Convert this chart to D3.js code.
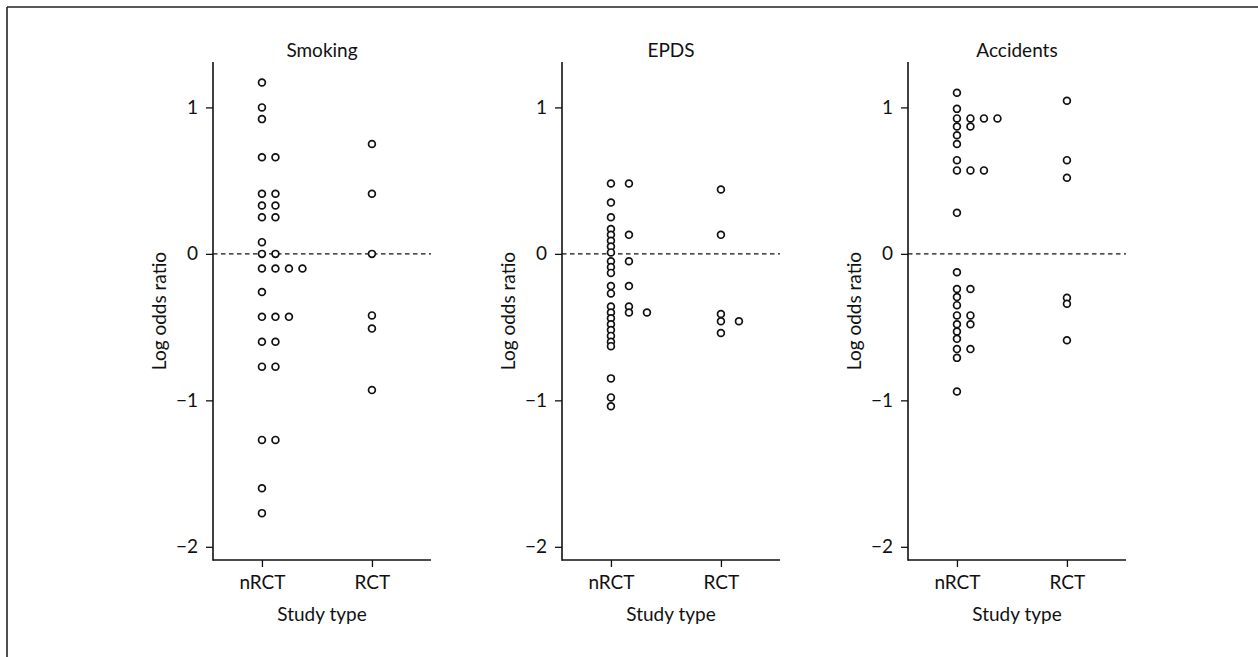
<!DOCTYPE html>
<html>
<head>
<meta charset="utf-8">
<script src="https://cdn.jsdelivr.net/npm/d3@7"></script>
<style>
  html, body { margin: 0; padding: 0; background: #fff; }
  svg { display: block; }
  text { font-family: Lato, "Open Sans", sans-serif; fill: #111; }
</style>
</head>
<body>
<svg id="chart" width="1258" height="657"></svg>
<script>
// ---- data ----
const panelTitles = ["Smoking", "EPDS", "Accidents"];
const categories = ["nRCT", "RCT"];
const yTickValues = [1, 0, -1, -2];
const yTickLabels = ["1", "0", "\u22121", "\u22122"];
const xAxisTitle = "Study type";
const yAxisTitle = "Log odds ratio";

const smokingNRCT = [1.17, 1.00, 0.92, 0.66, 0.66, 0.41, 0.41, 0.33, 0.33, 0.25, 0.25, 0.08,
  0.00, 0.00, -0.10, -0.10, -0.10, -0.10, -0.26, -0.43, -0.43, -0.43, -0.60, -0.60,
  -0.77, -0.77, -1.27, -1.27, -1.60, -1.77];
const smokingRCT = [0.75, 0.41, 0.00, -0.42, -0.51, -0.93];

const epdsNRCT = [0.48, 0.48, 0.35, 0.25, 0.17, 0.13, 0.13, 0.09, 0.05, 0.01, -0.05, -0.05,
  -0.09, -0.13, -0.22, -0.22, -0.27, -0.36, -0.36, -0.40, -0.40, -0.40, -0.44, -0.48,
  -0.52, -0.56, -0.60, -0.63, -0.85, -0.98, -1.04];
const epdsRCT = [0.44, 0.13, -0.41, -0.46, -0.46, -0.54];

const accidentsNRCT = [1.10, 0.99, 0.925, 0.925, 0.925, 0.925, 0.87, 0.87, 0.81, 0.75, 0.64,
  0.57, 0.57, 0.57, 0.28, -0.125, -0.24, -0.24, -0.295, -0.35, -0.42, -0.42, -0.48, -0.48,
  -0.53, -0.58, -0.65, -0.65, -0.71, -0.94];
const accidentsRCT = [1.045, 0.64, 0.52, -0.30, -0.34, -0.59];

const panelSeries = [
  [smokingNRCT, smokingRCT],
  [epdsNRCT, epdsRCT],
  [accidentsNRCT, accidentsRCT]
];

// ---- layout ----
const svg = d3.select("#chart");
const panelLeft = [213, 562, 908];
const panelWidth = 218;
const plotTop = 62, plotBottom = 560;
const fontSize = 19;

// frame
svg.append("line").attr("x1", 7).attr("x2", 1258).attr("y1", 7).attr("y2", 7)
  .attr("stroke", "#222").attr("stroke-width", 1.6);
svg.append("line").attr("x1", 7).attr("x2", 7).attr("y1", 7).attr("y2", 657)
  .attr("stroke", "#222").attr("stroke-width", 1.6);

const y = d3.scaleLinear().domain([-2.09, 1.31]).range([plotBottom, plotTop]);

panelTitles.forEach((title, pi) => {
  const left = panelLeft[pi];
  const x = d3.scaleLinear().domain([0.555, 2.537]).range([left, left + panelWidth]);
  const g = svg.append("g");
  const cx = left + panelWidth / 2;

  // dashed zero line
  g.append("line")
    .attr("x1", x.range()[0]).attr("x2", x.range()[1])
    .attr("y1", y(0)).attr("y2", y(0))
    .attr("stroke", "#111").attr("stroke-width", 1.3)
    .attr("stroke-dasharray", "4.5,3.5");

  // y axis
  const yAxis = d3.axisLeft(y).tickValues(yTickValues)
    .tickFormat((d, i) => yTickLabels[i]).tickSize(7).tickPadding(8).tickSizeOuter(0);
  const ya = g.append("g").attr("transform", `translate(${left},0)`).call(yAxis);
  ya.select(".domain").remove();
  ya.append("line").attr("x1", 0).attr("x2", 0).attr("y1", plotTop).attr("y2", plotBottom + 0.75)
    .attr("stroke", "#111").attr("stroke-width", 1.6);
  ya.selectAll(".tick line").attr("stroke", "#111").attr("stroke-width", 1.3);
  ya.selectAll(".tick text").attr("font-size", fontSize).attr("font-family", "Lato, sans-serif").attr("fill", "#111");

  // x axis
  const xAxis = d3.axisBottom(x).tickValues([1, 2])
    .tickFormat((d) => categories[d - 1]).tickSize(7).tickPadding(9).tickSizeOuter(0);
  const xa = g.append("g").attr("transform", `translate(0,${plotBottom})`).call(xAxis);
  xa.select(".domain").remove();
  xa.append("line").attr("x1", x.range()[0]).attr("x2", x.range()[1]).attr("y1", 0).attr("y2", 0)
    .attr("stroke", "#111").attr("stroke-width", 1.6);
  xa.selectAll(".tick line").attr("stroke", "#111").attr("stroke-width", 1.3);
  xa.selectAll(".tick text").attr("font-size", fontSize).attr("font-family", "Lato, sans-serif").attr("fill", "#111");

  // titles
  g.append("text").attr("x", cx).attr("y", 57).attr("text-anchor", "middle")
    .attr("font-size", fontSize).text(title);
  g.append("text").attr("x", cx).attr("y", 621).attr("text-anchor", "middle")
    .attr("font-size", fontSize).text(xAxisTitle);
  g.append("text")
    .attr("transform", `translate(${left - 47},${(plotTop + plotBottom) / 2}) rotate(-90)`)
    .attr("text-anchor", "middle").attr("font-size", fontSize).text(yAxisTitle);

  // dot plot: equal values placed side by side
  const series = panelSeries[pi];
  let maxCount = 1;
  const pts = [];
  series.forEach((vals, ci) => {
    const counts = new Map();
    vals.forEach(v => {
      const k = counts.get(v) || 0;
      counts.set(v, k + 1);
      pts.push({ cat: ci + 1, v, k });
      if (k + 1 > maxCount) maxCount = k + 1;
    });
  });
  const spacing = 54 / maxCount;
  g.selectAll("circle.pt").data(pts).join("circle")
    .attr("class", "pt")
    .attr("cx", d => x(d.cat) + d.k * spacing)
    .attr("cy", d => y(d.v))
    .attr("r", 3.4)
    .attr("fill", "#fff")
    .attr("stroke", "#111")
    .attr("stroke-width", 1.7);
});
</script>
</body>
</html>
